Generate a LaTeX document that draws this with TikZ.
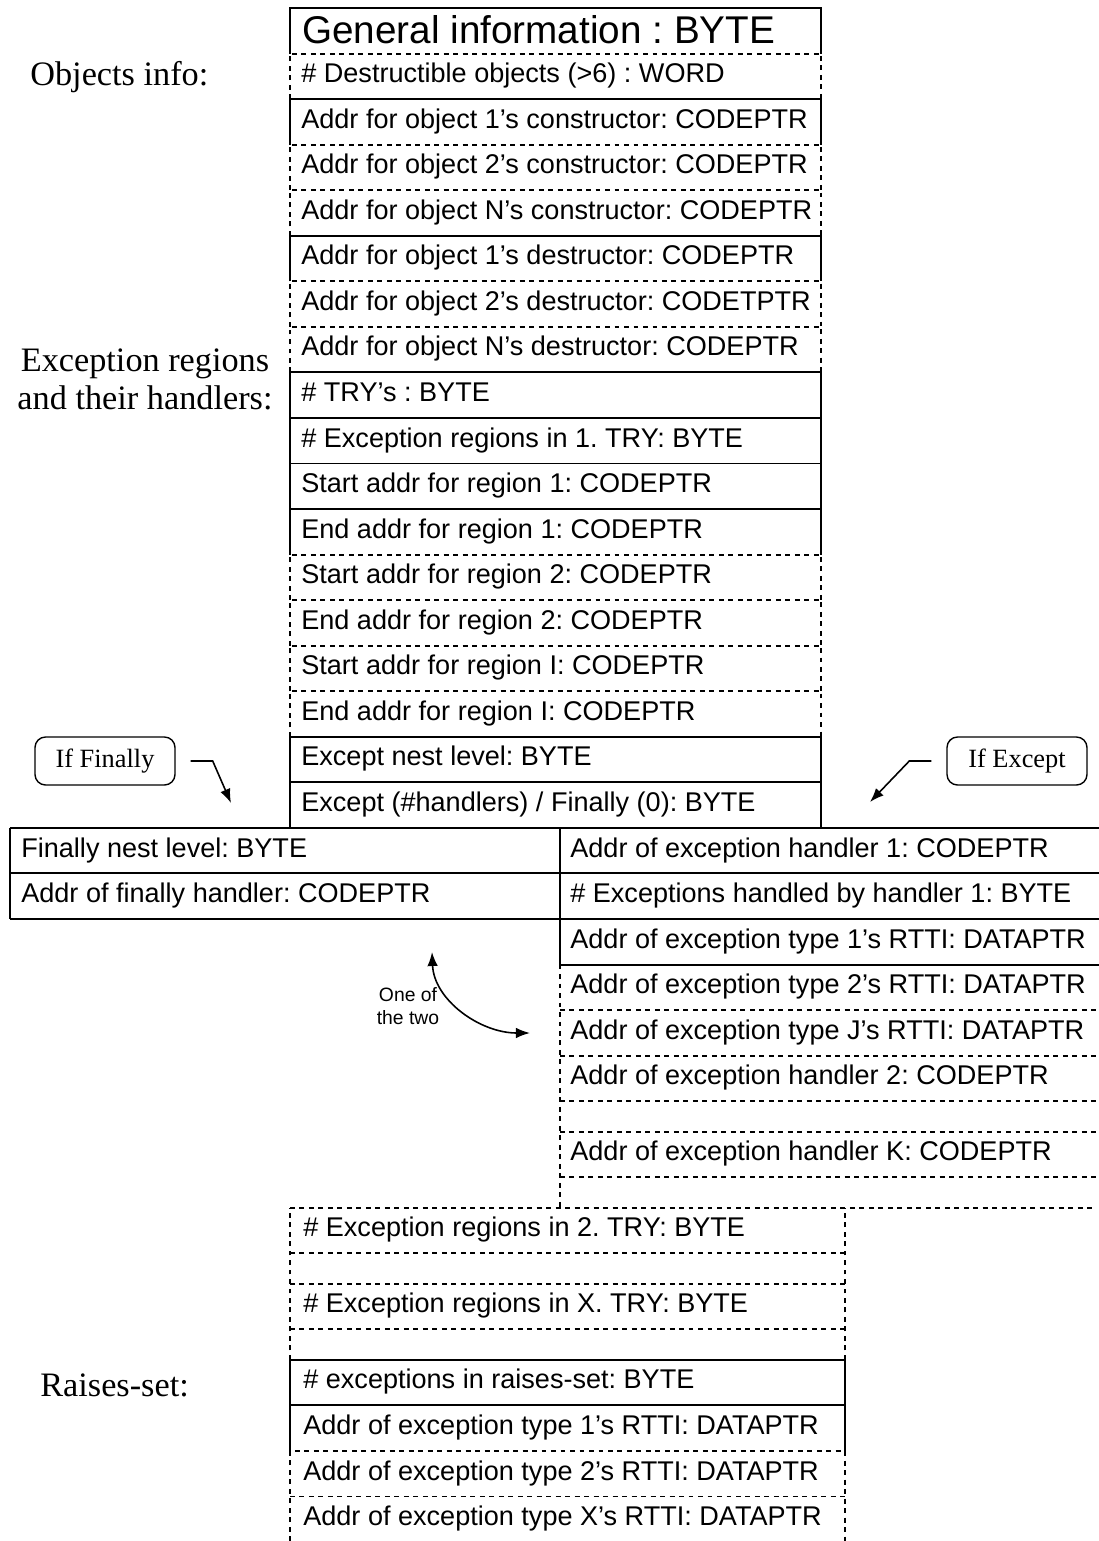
\documentclass[tikz,border=0pt]{standalone}
\usepackage{fontspec}
\setmainfont{Liberation Serif}
\setsansfont{Liberation Sans}
\usetikzlibrary{arrows.meta}
\tikzset{solidrow/.style={draw=black,line width=1.1pt},
 dashrow/.style={draw=black,line width=1.1pt,dash pattern=on 2.8pt off 2.6pt},
 rowtext/.style={anchor=west,inner sep=0pt,text height=0.72em,text depth=0pt,font=\sffamily\fontsize{15.4}{18}\selectfont},
 sidelabel/.style={align=center,inner sep=0pt,font=\fontsize{19.5}{21.6}\selectfont},
 choice/.style={draw=black,line width=.8pt,rounded corners=6pt,minimum width=2.8cm,minimum height=0.96cm,font=\fontsize{15}{18}\selectfont},
 pointer/.style={line width=.9pt,-{Latex[length=8pt,width=6pt]}}}

\begin{document}
\frenchspacing
\begin{tikzpicture}[]
\useasboundingbox (0,0) rectangle (21.98,-30.82);
% objects info
\draw[solidrow] (5.80,-1.071) -- (5.80,-0.160) -- (16.42,-0.160) -- (16.42,-1.071);
\draw[dashrow] (5.80,-1.982) -- (5.80,-1.071) -- (16.42,-1.071) -- (16.42,-1.982);
\draw[solidrow] (5.80,-2.893) -- (5.80,-1.982) -- (16.42,-1.982) -- (16.42,-2.893);
\draw[dashrow] (5.80,-3.804) -- (5.80,-2.893) -- (16.42,-2.893) -- (16.42,-3.804);
\draw[dashrow] (5.80,-4.715) -- (5.80,-3.804) -- (16.42,-3.804) -- (16.42,-4.715);
\draw[solidrow] (5.80,-5.626) -- (5.80,-4.715) -- (16.42,-4.715) -- (16.42,-5.626);
\draw[dashrow] (5.80,-6.537) -- (5.80,-5.626) -- (16.42,-5.626) -- (16.42,-6.537);
\draw[dashrow] (5.80,-7.448) -- (5.80,-6.537) -- (16.42,-6.537) -- (16.42,-7.448);
% exception regions
\draw[solidrow] (5.80,-8.359) -- (5.80,-7.448) -- (16.42,-7.448) -- (16.42,-8.359);
\draw[solidrow] (5.80,-9.270) -- (5.80,-8.359) -- (16.42,-8.359) -- (16.42,-9.270);
\draw[solidrow] (5.80,-10.181) -- (5.80,-9.270) -- (16.42,-9.270) -- (16.42,-10.181);
\draw[solidrow] (5.80,-11.092) -- (5.80,-10.181) -- (16.42,-10.181) -- (16.42,-11.092);
\draw[dashrow] (5.80,-12.003) -- (5.80,-11.092) -- (16.42,-11.092) -- (16.42,-12.003);
\draw[dashrow] (5.80,-12.914) -- (5.80,-12.003) -- (16.42,-12.003) -- (16.42,-12.914);
\draw[dashrow] (5.80,-13.825) -- (5.80,-12.914) -- (16.42,-12.914) -- (16.42,-13.825);
\draw[dashrow] (5.80,-14.736) -- (5.80,-13.825) -- (16.42,-13.825) -- (16.42,-14.736);
\draw[solidrow] (5.80,-15.647) -- (5.80,-14.736) -- (16.42,-14.736) -- (16.42,-15.647);
\draw[solidrow] (5.80,-16.558) -- (5.80,-15.647) -- (16.42,-15.647) -- (16.42,-16.558);
% finally and except parts
\draw[solidrow] (0.20,-16.558) -- (21.98,-16.558);
\draw[solidrow] (0.20,-17.469) -- (21.98,-17.469);
\draw[solidrow] (0.20,-18.380) -- (21.98,-18.380);
\draw[solidrow] (0.20,-16.558) -- (0.20,-18.380);
\draw[solidrow] (11.20,-16.558) -- (11.20,-19.291) -- (21.98,-19.291);
\draw[dashrow] (11.20,-19.291) -- (11.20,-24.155);
\draw[dashrow] (11.20,-20.202) -- (21.98,-20.202);
\draw[dashrow] (11.20,-21.113) -- (21.98,-21.113);
\draw[dashrow] (11.20,-22.024) -- (21.98,-22.024);
\draw[dashrow] (11.20,-22.634) -- (21.98,-22.634);
\draw[dashrow] (11.20,-23.545) -- (21.98,-23.545);
\draw[dashrow] (5.80,-24.155) -- (21.86,-24.155);
% next TRY's and raises-set
\draw[dashrow] (5.80,-27.197) -- (5.80,-24.155);
\draw[dashrow] (16.90,-27.197) -- (16.90,-24.155);
\draw[dashrow] (5.80,-25.066) -- (16.90,-25.066);
\draw[dashrow] (5.80,-25.676) -- (16.90,-25.676);
\draw[dashrow] (5.80,-26.587) -- (16.90,-26.587);
\draw[solidrow] (5.80,-29.019) -- (5.80,-27.197) -- (16.90,-27.197) -- (16.90,-29.019);
\draw[solidrow] (5.80,-28.108) -- (16.90,-28.108);
\draw[dashrow] (5.80,-30.820) -- (5.80,-29.019) -- (16.90,-29.019) -- (16.90,-30.820);
\draw[dashrow] (5.80,-29.930) -- (16.90,-29.930);
\node[rowtext,font=\sffamily\fontsize{22}{26}\selectfont] (geninfo) at (6.04,-0.74) {General information : BYTE};
\node[rowtext] (ndestr) at (6.02,-1.527) {\# Destructible objects (>6) : WORD};
\node[rowtext] (ctorone) at (6.02,-2.438) {Addr for object 1's constructor: CODEPTR};
\node[rowtext] (ctortwo) at (6.02,-3.349) {Addr for object 2's constructor: CODEPTR};
\node[rowtext] (ctorn) at (6.02,-4.260) {Addr for object N's constructor: CODEPTR};
\node[rowtext] (dtorone) at (6.02,-5.171) {Addr for object 1's destructor: CODEPTR};
\node[rowtext] (dtortwo) at (6.02,-6.082) {Addr for object 2's destructor: CODETPTR};
\node[rowtext] (dtorn) at (6.02,-6.993) {Addr for object N's destructor: CODEPTR};
\node[rowtext] (ntry) at (6.02,-7.904) {\# TRY's : BYTE};
\node[rowtext] (nregone) at (6.02,-8.815) {\# Exception regions in 1. TRY: BYTE};
\node[rowtext] (startone) at (6.02,-9.726) {Start addr for region 1: CODEPTR};
\node[rowtext] (endone) at (6.02,-10.637) {End addr for region 1: CODEPTR};
\node[rowtext] (starttwo) at (6.02,-11.548) {Start addr for region 2: CODEPTR};
\node[rowtext] (endtwo) at (6.02,-12.459) {End addr for region 2: CODEPTR};
\node[rowtext] (starti) at (6.02,-13.370) {Start addr for region I: CODEPTR};
\node[rowtext] (endi) at (6.02,-14.281) {End addr for region I: CODEPTR};
\node[rowtext] (nest) at (6.02,-15.192) {Except nest level: BYTE};
\node[rowtext] (nhandlers) at (6.02,-16.103) {Except (\#handlers) / Finally (0): BYTE};
\node[rowtext] (finnest) at (0.42,-17.014) {Finally nest level: BYTE};
\node[rowtext] (finaddr) at (0.42,-17.925) {Addr of finally handler: CODEPTR};
\node[rowtext] (hone) at (11.40,-17.014) {Addr of exception handler 1: CODEPTR};
\node[rowtext] (nexcone) at (11.40,-17.925) {\# Exceptions handled by handler 1: BYTE};
\node[rowtext] (rttione) at (11.40,-18.836) {Addr of exception type 1's RTTI: DATAPTR};
\node[rowtext] (rttitwo) at (11.40,-19.747) {Addr of exception type 2's RTTI: DATAPTR};
\node[rowtext] (rttij) at (11.40,-20.658) {Addr of exception type J's RTTI: DATAPTR};
\node[rowtext] (htwo) at (11.40,-21.569) {Addr of exception handler 2: CODEPTR};
\node[rowtext] (hk) at (11.40,-23.090) {Addr of exception handler K: CODEPTR};
\node[rowtext] (nregtwo) at (6.06,-24.611) {\# Exception regions in 2. TRY: BYTE};
\node[rowtext] (nregx) at (6.06,-26.132) {\# Exception regions in X. TRY: BYTE};
\node[rowtext] (nraise) at (6.06,-27.653) {\# exceptions in raises-set: BYTE};
\node[rowtext] (raiseone) at (6.06,-28.564) {Addr of exception type 1's RTTI: DATAPTR};
\node[rowtext] (raisetwo) at (6.06,-29.475) {Addr of exception type 2's RTTI: DATAPTR};
\node[rowtext] (raisex) at (6.06,-30.376) {Addr of exception type X's RTTI: DATAPTR};
\node[sidelabel,anchor=west] (objlbl) at (0.60,-1.54) {Objects info:};
\node[sidelabel] (exclbl) at (2.90,-7.58) {Exception regions\\and their handlers:};
\node[sidelabel,anchor=west] (raiselbl) at (0.80,-27.70) {Raises-set:};
\node[choice] (iffinally) at (2.10,-15.22) {If Finally};
\node[choice] (ifexcept) at (20.34,-15.22) {If Except};
\coordinate (fintip) at (4.62,-16.06);
\coordinate (exctip) at (17.40,-16.04);
\draw[pointer,shorten <=8.5pt] (iffinally.east) -- ++(0.74,0) -- (fintip);
\draw[pointer,shorten <=8.5pt] (ifexcept.west) -- ++(-0.74,0) -- (exctip);
\node[font=\sffamily\fontsize{11}{13.5}\selectfont,align=center,inner sep=0pt] (oneoftwo) at (8.16,-20.12) {One of\\the two};
\coordinate (twotop) at (8.64,-19.04);
\coordinate (tworight) at (10.60,-20.66);
\draw[pointer,{Latex[length=8pt,width=6pt]}-{Latex[length=8pt,width=6pt]}] (twotop) .. controls (8.68,-20.00) and (9.60,-20.66) .. (tworight);
\end{tikzpicture}
\end{document}
